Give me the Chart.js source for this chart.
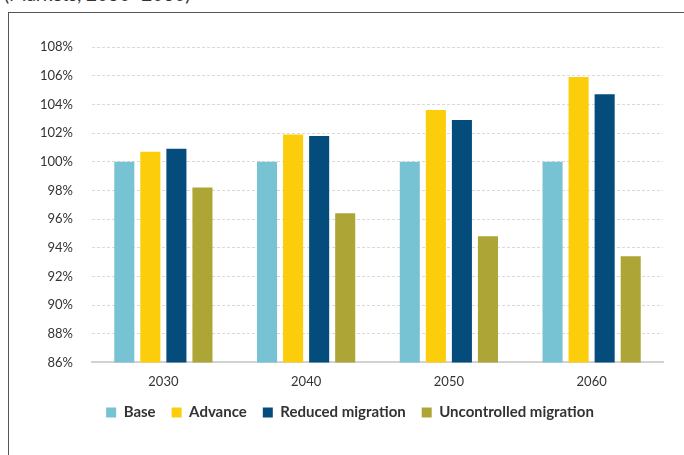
<!DOCTYPE html>
<html>
<head>
<meta charset="utf-8">
<script src="https://cdn.jsdelivr.net/npm/chart.js@4.4.1/dist/chart.umd.min.js"></script>
<style>
    html, body {
        margin: 0;
        padding: 0;
        width: 684px;
        height: 455px;
        overflow: hidden;
        background: #fff;
        font-family: Lato, "Noto Sans", sans-serif;
    }
    .title {
        position: absolute;
        left: 4px;
        top: -18px;
        font-size: 19px;
        color: #333;
        white-space: nowrap;
    }
    .frame {
        position: absolute;
        left: 8px;
        top: 12px;
        width: 720px;
        height: 500px;
        border-left: 1px solid #555;
        border-top: 1px solid #555;
    }
    .chart-box {
        position: absolute;
        left: 0;
        top: 0;
        width: 682px;
        height: 445px;
    }
</style>
</head>
<body>
<div class="title">(Markets, 2030–2060)</div>
<div class="frame">
    <div class="chart-box"><canvas id="chart"></canvas></div>
</div>
<script>
const years = ["2030", "2040", "2050", "2060"]
const seriesNames = ["Base", "Advance", "Reduced migration", "Uncontrolled migration"]
const base = [100, 100, 100, 100]
const advance = [100.7, 101.9, 103.6, 105.9]
const reducedMigration = [100.9, 101.8, 102.9, 104.7]
const uncontrolledMigration = [98.2, 96.4, 94.8, 93.4]
const colors = ["#77c3d3", "#fbcd0b", "#044c7b", "#ada636"]
const yMin = 86
const yMax = 108
const yStep = 2

const textColor = "#333333"

const datasets = [base, advance, reducedMigration, uncontrolledMigration].map((values, i) => ({
    label: seriesNames[i],
    data: values,
    backgroundColor: colors[i],
    borderWidth: 0,
    categoryPercentage: 0.73,
    barPercentage: 0.77,
}))

// pull the legend closer to the axis labels and centre it on the whole canvas
const legendShift = {
    id: "legendShift",
    afterLayout(chart) {
        const legend = chart.legend
        if (!legend) return
        legend.top -= 13
        legend.bottom -= 13
        legend.right += 28
    },
}

new Chart(document.getElementById("chart"), {
    type: "bar",
    data: { labels: years, datasets },
    plugins: [legendShift],
    options: {
        responsive: true,
        maintainAspectRatio: false,
        animation: false,
        layout: {
            padding: { top: 34, right: 28, bottom: 15, left: 0 },
        },
        scales: {
            x: {
                grid: { display: false, drawTicks: false },
                border: { display: true, color: "#d2d2d2", width: 2 },
                ticks: {
                    color: textColor,
                    padding: 12,
                    font: { family: "Lato", size: 13 },
                },
            },
            y: {
                min: yMin,
                max: yMax,
                afterFit: scale => {
                    scale.width = 83
                },
                border: { display: false, dash: [3, 2] },
                grid: {
                    color: "#d9d9d9",
                    drawTicks: false,
                    lineWidth: 1,
                },
                ticks: {
                    stepSize: yStep,
                    padding: 19,
                    color: textColor,
                    font: { family: "Lato", size: 13 },
                    callback: v => v + "%",
                },
            },
        },
        plugins: {
            tooltip: { enabled: false },
            legend: {
                position: "bottom",
                labels: {
                    boxWidth: 10,
                    boxHeight: 10,
                    padding: 16,
                    color: textColor,
                    font: { family: "Lato", size: 15, weight: "bold" },
                },
            },
        },
    },
})
</script>
</body>
</html>
